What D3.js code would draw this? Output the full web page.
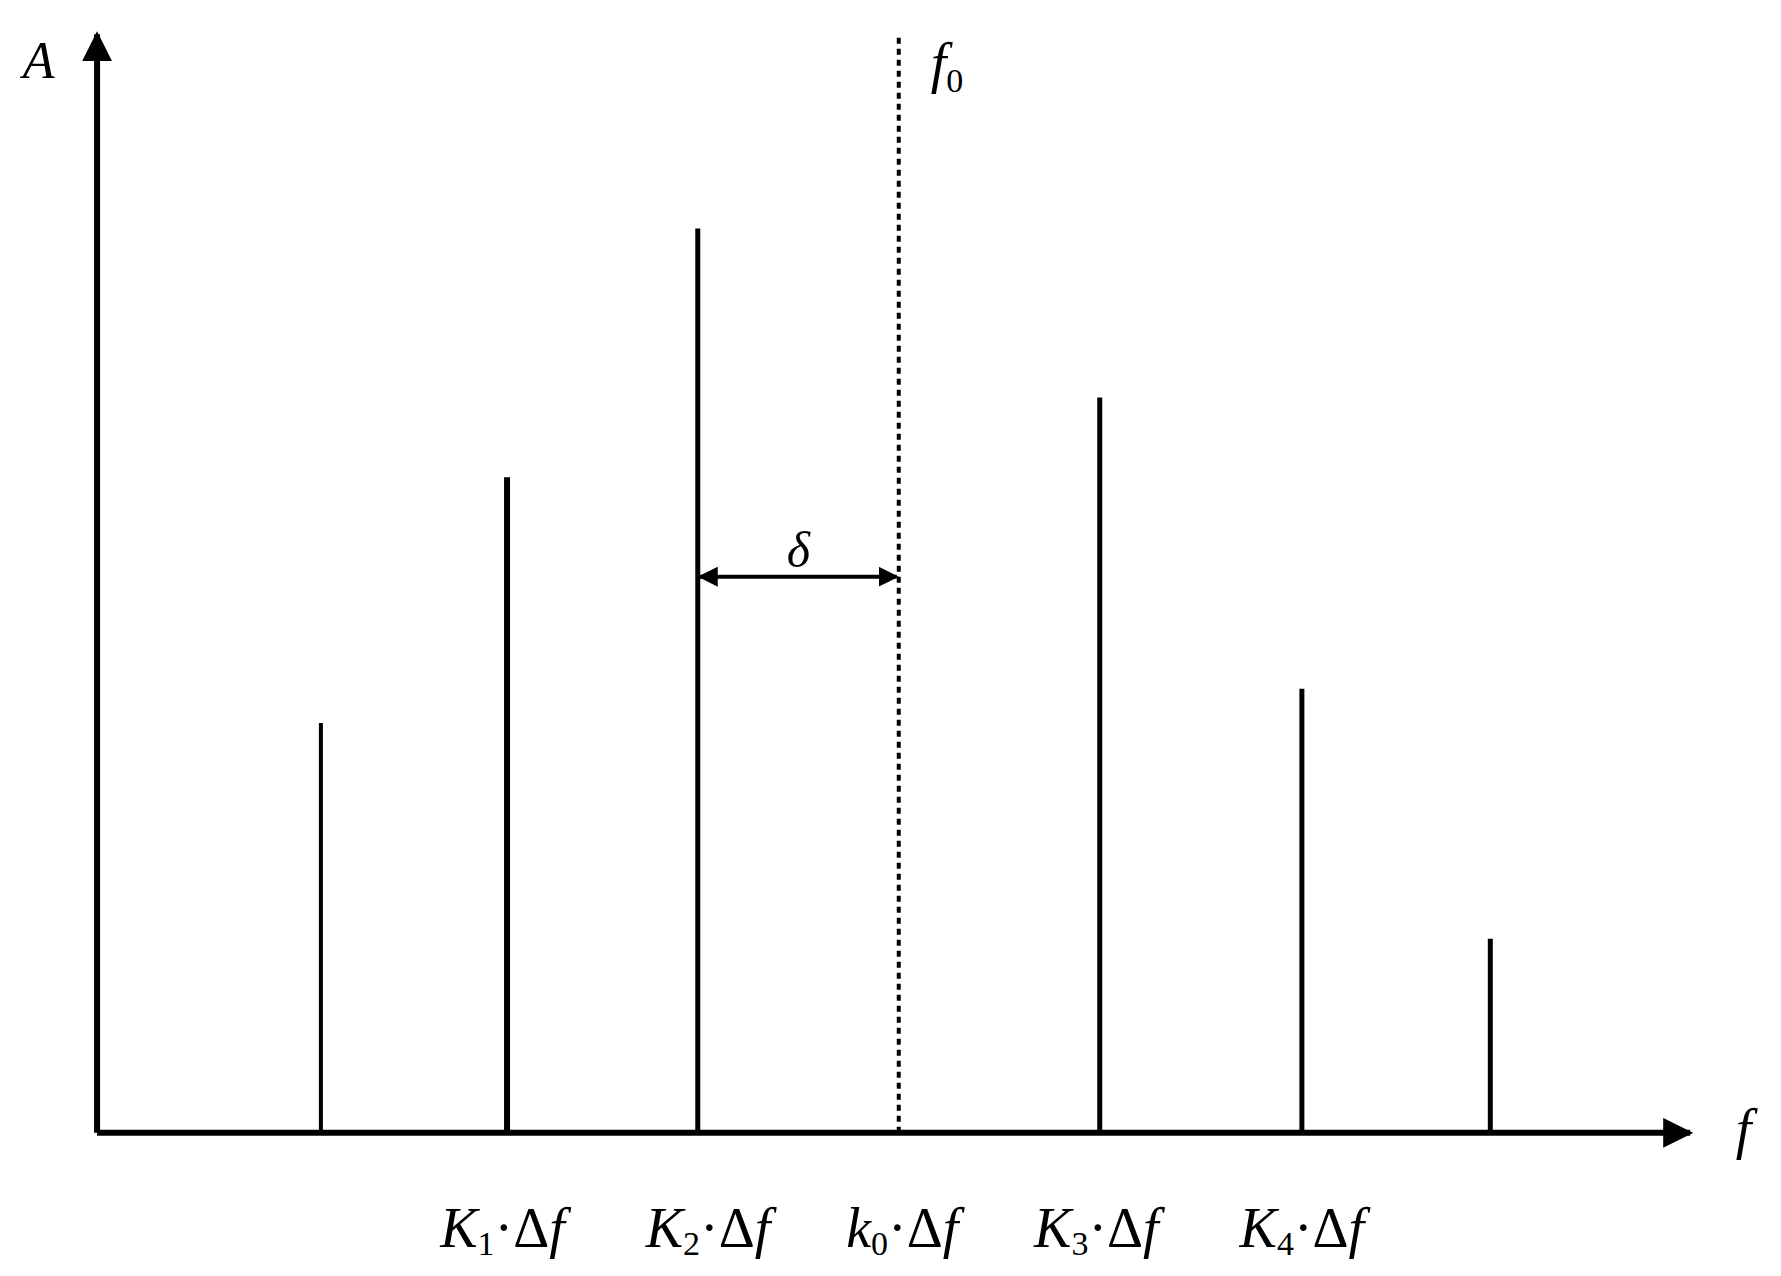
<!DOCTYPE html>
<html><head><meta charset="utf-8">
<script src="https://cdn.jsdelivr.net/npm/d3@7"></script>
<style>body{margin:0;background:#fff}text{font-family:"Liberation Serif",serif;font-style:italic}</style>
</head><body><div id="chart"></div>
<script>
// spectral lines (frequency position, amplitude)
var freqs = [2.81, 4.44, 6.11, 9.63, 11.40, 13.05];
var amps = [3.59, 5.74, 7.92, 6.44, 3.89, 1.70];
var widths = [4, 6, 5, 5, 5, 5];
var f0 = 7.87;
var labelPos = [4.40, 6.20, 7.90, 9.60, 11.40];
var labels = [["K","1"], ["K","2"], ["k","0"], ["K","3"], ["K","4"]];

var k = 1.142;
var svg = d3.select("#chart").append("svg").attr("width", 1781).attr("height", 1276);

var x = d3.scaleLinear().domain([0.85, 14.8]).range([85 * k, 1480 * k]);
var y = d3.scaleLinear().domain([0, 9.62]).range([992 * k, 30 * k]);

svg.append("defs").append("marker").attr("id", "ah").attr("viewBox", "0 0 10 10")
  .attr("refX", 9).attr("refY", 5).attr("markerWidth", 5).attr("markerHeight", 5)
  .attr("markerUnits", "strokeWidth").attr("orient", "auto-start-reverse")
  .append("path").attr("d", "M0,0L10,5L0,10z").attr("fill", "#000");

// axes
svg.append("line").attr("x1", x(0.85)).attr("y1", y(0)).attr("x2", x(0.85)).attr("y2", y(9.62))
  .attr("stroke", "#000").attr("stroke-width", 6).attr("marker-end", "url(#ah)");
svg.append("line").attr("x1", x(0.85)).attr("y1", y(0)).attr("x2", x(14.8)).attr("y2", y(0))
  .attr("stroke", "#000").attr("stroke-width", 6).attr("marker-end", "url(#ah)");

// spectral lines
svg.selectAll(".ln").data(freqs).enter().append("line")
  .attr("x1", d => x(d)).attr("x2", d => x(d))
  .attr("y1", y(0)).attr("y2", (d, i) => y(amps[i]))
  .attr("stroke", "#000").attr("stroke-width", (d, i) => widths[i]);

// f0 dotted line
svg.append("line").attr("x1", x(f0)).attr("x2", x(f0)).attr("y1", y(0)).attr("y2", y(9.62))
  .attr("stroke", "#000").attr("stroke-width", 4).attr("stroke-dasharray", "6,5");

// delta arrow
svg.append("line").attr("x1", x(freqs[2]) + 2).attr("x2", x(f0) - 2).attr("y1", y(4.87)).attr("y2", y(4.87))
  .attr("stroke", "#000").attr("stroke-width", 4)
  .attr("marker-start", "url(#ah)").attr("marker-end", "url(#ah)");
svg.append("text").attr("x", x((freqs[2] + f0) / 2)).attr("y", y(4.87) - 10)
  .attr("text-anchor", "middle").attr("font-size", 50).text("δ");

// axis labels
svg.append("text").attr("x", 20 * k).attr("y", 68 * k).attr("font-size", 52).text("A");
svg.append("text").attr("x", 815 * k).attr("y", 72 * k).attr("font-size", 56)
  .html('f<tspan font-size="34" font-style="normal" dy="10">0</tspan>');
svg.append("text").attr("x", 1520 * k).attr("y", 1005 * k).attr("font-size", 56).text("f");

// tick labels
labels.forEach(function(l, i) {
  svg.append("text").attr("x", x(labelPos[i])).attr("y", 1092 * k).attr("text-anchor", "middle")
    .attr("font-size", 56)
    .html(l[0] + '<tspan font-size="34" font-style="normal" dy="8">' + l[1] + '</tspan><tspan dy="-8" font-style="normal">·Δ</tspan>f');
});
</script></body></html>
